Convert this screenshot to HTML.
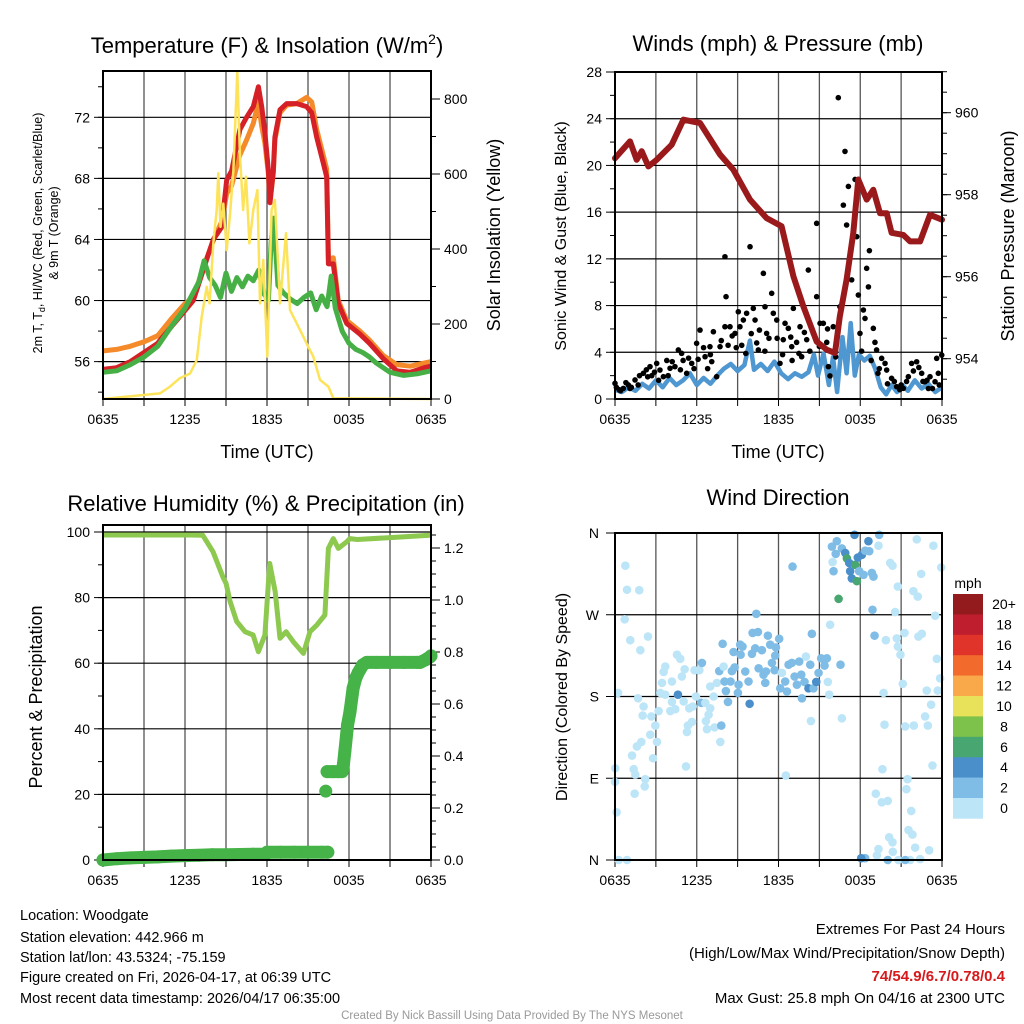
<!DOCTYPE html>
<html><head><meta charset="utf-8">
<style>
html,body{margin:0;padding:0;background:#fff;}
svg{display:block;font-family:"Liberation Sans",Arial,sans-serif;}
</style></head>
<body>
<svg id="chart" width="1024" height="1024" viewBox="0 0 1024 1024">
<rect x="0" y="0" width="1024" height="1024" fill="#fff"/>
<g id="texts" fill="#000">
<text x="267" y="53" font-size="22" text-anchor="middle">Temperature (F) &amp; Insolation (W/m<tspan dy="-9" font-size="14">2</tspan><tspan dy="9">)</tspan></text>
<text x="778" y="51" font-size="22" text-anchor="middle">Winds (mph) &amp; Pressure (mb)</text>
<text x="266" y="511" font-size="22" text-anchor="middle">Relative Humidity (%) &amp; Precipitation (in)</text>
<text x="778" y="505" font-size="22" text-anchor="middle">Wind Direction</text>
<text x="267" y="458" font-size="18" text-anchor="middle">Time (UTC)</text>
<text x="778" y="458" font-size="18" text-anchor="middle">Time (UTC)</text>
<text transform="translate(42,233) rotate(-90)" font-size="12.5" text-anchor="middle">2m T, T<tspan dy="3" font-size="9">d</tspan><tspan dy="-3">, HI/WC (Red, Green, Scarlet/Blue)</tspan></text>
<text transform="translate(58,233) rotate(-90)" font-size="12.5" text-anchor="middle">&amp; 9m T (Orange)</text>
<text transform="translate(500,235) rotate(-90)" font-size="18" text-anchor="middle">Solar Insolation (Yellow)</text>
<text transform="translate(566,236) rotate(-90)" font-size="16" text-anchor="middle">Sonic Wind &amp; Gust (Blue, Black)</text>
<text transform="translate(1014,236) rotate(-90)" font-size="18" text-anchor="middle">Station Pressure (Maroon)</text>
<text transform="translate(42,697) rotate(-90)" font-size="18" text-anchor="middle">Percent &amp; Precipitation</text>
<text transform="translate(567,697) rotate(-90)" font-size="16" text-anchor="middle">Direction (Colored By Speed)</text>
<g font-size="14.5">
<text x="20" y="920">Location: Woodgate</text>
<text x="20" y="942">Station elevation: 442.966 m</text>
<text x="20" y="962">Station lat/lon: 43.5324; -75.159</text>
<text x="20" y="982">Figure created on Fri, 2026-04-17, at 06:39 UTC</text>
<text x="20" y="1003">Most recent data timestamp: 2026/04/17 06:35:00</text>
</g>
<g font-size="15" text-anchor="end">
<text x="1005" y="934">Extremes For Past 24 Hours</text>
<text x="1005" y="958">(High/Low/Max Wind/Precipitation/Snow Depth)</text>
<text x="1005" y="981" fill="#d7191c" font-weight="bold">74/54.9/6.7/0.78/0.4</text>
<text x="1005" y="1003">Max Gust: 25.8 mph On 04/16 at 2300 UTC</text>
</g>
<text x="512" y="1019" font-size="11.5" fill="#999" text-anchor="middle">Created By Nick Bassill Using Data Provided By The NYS Mesonet</text>
<text x="968" y="588" font-size="14" text-anchor="middle">mph</text>
</g>
<g id="plots"></g>
</svg>
<script>
// ---------- DATA ----------
const xTickLabels = ['0635','1235','1835','0035','0635'];
const tempTicks = [56,60,64,68,72];
const insTicks = [0,200,400,600,800];
const windTicks = [0,4,8,12,16,20,24,28];
const presTicks = [954,956,958,960];
const rhTicks = [0,20,40,60,80,100];
const precipTicks = [0,0.2,0.4,0.6,0.8,1.0,1.2];
const dirTickLabels = ['N','E','S','W','N'];
const dirTickValues = [0,90,180,270,360];
const speedClassLabels = ['0','2','4','6','8','10','12','14','16','18','20+'];
const speedClassColors = ['#bde5f8','#7fbce6','#4a8fc9','#48a670','#7dc24b','#e8e25a','#f9a84a','#f26a2c','#e0342a','#be1e2d','#931a1d'];

const redT_h = [0,1,2,3,4,4.17,5.39,6.61,7.59,8.07,8.68,9.05,9.42,10.02,10.51,11.0,11.37,11.61,11.85,12.1,12.22,12.46,12.58,12.95,13.44,14.17,14.9,15.27,15.64,16.12,16.37,16.49,16.85,17.22,17.83,18.8,19.5,20.5,21.5,22.5,23.5,24];
const redT_v = [55.5,55.6,56.0,56.6,57.2,57.4,58.7,60.0,62.7,64.0,64.8,67.9,68.5,71.2,72.0,72.7,74.0,72.7,71.0,68.5,66.4,68.5,70.7,72.5,72.9,72.9,72.7,72.3,70.7,69.0,68.1,62.4,62.4,59.8,58.5,57.8,57.2,56.2,55.4,55.3,55.6,55.7];
const orangeT_h = [0,1,2,3,4,5,6,6.6,7.6,8.1,8.7,9.05,9.4,10.0,10.5,11.0,11.37,11.6,11.85,12.1,12.22,12.46,12.58,12.95,13.44,14.17,14.9,15.27,15.64,16.12,16.37,16.49,16.85,17.22,17.83,18.8,19.5,20.5,21.5,22.5,23.5,24];
const orangeT_v = [56.7,56.8,57.0,57.3,57.7,58.8,59.8,60.2,62.8,64.0,65.2,67.0,67.5,69.5,70.5,71.6,73.0,71.5,70.3,68.3,66.5,68.3,70.5,72.3,72.8,72.9,73.3,73.0,71.2,69.5,68.6,62.7,62.8,60.0,58.7,58.0,57.4,56.4,55.8,55.7,55.9,56.0];
const dewT_h = [0,1,2,3,4,5,6,7,7.4,7.8,8.2,8.6,9.0,9.4,9.8,10.2,10.6,11,11.4,11.8,12.1,12.3,12.5,12.8,13.2,13.7,14.2,14.7,15.2,15.6,16,16.4,16.7,17,17.5,18,18.5,19,19.5,20,20.5,21,22,23,24];
const dewT_v = [55.3,55.4,55.8,56.3,57.0,58.3,59.5,61.2,62.6,61.5,61.0,60.2,61.8,60.6,61.5,60.9,61.6,61.3,62.0,60.4,60.0,63.8,65.4,61.0,60.5,60.1,59.8,60.2,60.5,59.4,60.3,59.6,61.6,59.5,58.0,57.2,56.8,56.6,56.3,55.9,55.6,55.3,55.1,55.2,55.4];
const ins_h = [0,4.17,4.9,5.6,6.37,6.86,7.22,7.59,7.8,8.07,8.32,8.44,8.6,8.8,9.05,9.3,9.54,9.83,10.02,10.25,10.46,10.71,11.0,11.3,11.49,11.73,12.02,12.34,12.58,12.95,13.39,13.68,14.17,14.66,15.02,15.39,15.88,16.49,16.85,24];
const ins_v = [0,15,33,55,68,104,219,299,255,415,504,602,459,521,397,495,611,873,655,504,593,415,504,557,255,371,113,504,531,255,442,237,202,166,139,113,51,33,2,0];

const wind_h = [0,0.5,1,1.5,2,2.5,3,3.5,4,4.5,5,5.5,6,6.5,7,7.5,8,8.5,9,9.5,9.9,10.2,10.7,11.2,11.7,12.2,12.7,13.2,13.7,14.2,14.6,14.9,15.3,15.7,16.0,16.3,16.7,17.0,17.3,17.6,17.9,18.3,18.7,19.1,19.5,19.9,20.3,20.7,21.1,21.5,22,22.5,23,23.5,24];
const wind_v = [0.8,0.6,1.0,0.7,1.3,0.9,1.6,1.0,1.8,1.2,1.6,2.2,1.2,1.8,1.3,2.0,2.6,3.0,2.4,2.9,5.0,2.5,3.0,2.4,3.2,2.2,1.7,2.2,1.9,2.3,3.8,2.0,3.9,1.2,3.6,0.6,5.3,2.2,6.5,2.0,3.8,3.3,3.7,2.6,1.0,0.4,1.2,0.6,1.2,0.7,1.6,0.9,1.3,0.6,1.0];
const gust_h = [0,0.61,0.98,1.47,2.08,2.57,3.06,3.3,3.55,4.04,4.4,4.65,4.89,5.26,5.63,5.99,6.24,6.61,6.97,7.22,7.46,7.71,8.07,8.07,8.15,8.44,8.81,9.05,9.17,9.42,9.66,9.91,10.15,10.28,10.52,10.89,11.01,11.13,11.5,11.62,11.87,12.11,12.35,12.48,12.72,12.97,13.09,13.33,13.58,13.7,14.07,14.19,14.56,14.8,14.8,15.05,15.29,15.54,15.66,15.78,16.02,16.39,16.51,16.76,16.88,17.0,17.13,17.37,17.62,17.74,17.86,17.98,18.23,18.35,18.47,18.6,18.67,18.96,19.08,19.2,19.57,19.82,19.94,20.3,20.67,21.16,21.53,21.77,22.14,22.51,22.75,23.12,23.49,23.73,23.98,23.61,0.3,1.2,1.8,2.3,2.9,3.8,5.0,5.4,6.5,7.0,7.8,8.6,9.3,10.6,11.3,12.9,13.9,15.6,19.4,20.0,20.9,21.4,22.3,22.9,23.3,0.1,0.4,0.8,1.1,1.7,2.4,2.7,3.2,3.9,4.2,4.8,5.8,6.1,6.8,7.1,8.3,8.9,9.6,10.0,10.4,11.0,11.9,12.3,13.0,13.5,14.3,15.0,16.2,18.1,18.8,19.3,20.5,21.0,21.9,22.6,23.0,23.8];
const gust_v = [1.34,0.91,1.2,1.63,2.2,2.77,3.05,2.48,1.91,2.63,2.77,4.2,3.91,2.2,3.05,4.77,5.9,3.62,4.48,5.76,1.91,4.48,6.19,12.18,8.76,6.19,5.62,7.47,6.19,6.76,7.34,13.04,7.76,6.76,4.2,10.76,7.9,5.62,9.05,7.34,6.76,3.05,5.08,6.48,6.05,4.48,7.76,4.85,6.19,3.62,5.08,11.04,5.62,15.04,8.76,6.48,6.48,4.85,2.77,1.98,6.19,25.8,7.9,16.6,21.2,14.9,18.2,10.2,18.8,13.9,8.9,5.62,7.62,6.9,11.19,9.6,12.7,6.05,4.85,4.2,3.48,3.05,2.48,1.77,1.06,0.91,1.91,3.05,3.19,2.2,1.48,1.91,1.48,2.2,3.76,3.48,0.8,1.0,2.0,2.5,2.3,3.3,3.3,3.5,4.4,3.8,5.0,5.4,4.6,5.9,5.2,5.3,5.7,6.0,2.6,1.3,0.8,1.5,2.7,1.6,0.9,1.0,0.7,1.4,0.9,1.2,1.9,2.0,1.6,2.0,3.2,2.5,2.6,3.4,2.6,3.2,4.6,4.4,3.9,5.6,4.8,4.1,5.2,3.8,3.3,3.9,4.1,4.5,3.6,4.1,3.3,2.2,1.5,1.2,2.4,1.5,0.9,1.2];
const pres_h = [0,1.1,1.59,1.96,2.45,3.06,4.16,5.02,6.24,7.71,8.68,9.91,11.13,12.23,13.09,13.82,14.8,15.54,16.15,16.5,17.0,17.49,17.86,18.47,18.96,19.45,19.94,20.3,21.16,21.65,22.39,23.12,24];
const pres_v = [958.89,959.30,958.85,959.06,958.69,958.85,959.22,959.83,959.75,958.98,958.61,957.88,957.43,957.23,956.01,955.28,954.42,954.22,954.14,955.03,955.93,957.07,958.37,957.88,958.12,957.55,957.55,957.07,957.02,956.86,956.86,957.51,957.39];

const rh_h = [0,6.37,7.3,8.05,8.8,9.0,9.3,9.78,10.39,10.98,11.37,11.85,12.2,12.6,12.95,13.4,13.92,14.66,15.15,15.64,16.24,16.49,16.85,17.22,17.83,18.07,18.6,21,23.9,24];
const rh_v = [99.1,99.1,99,94,86,84.4,78.8,72.7,69.6,68.6,63.5,68.6,90.4,81.8,67.6,69.6,66.6,63,69.6,71.6,74.7,95,98,95,97,98,97.7,98.3,99,99];
const pr_h = [0,1,2,3,4,5,6,7,8,9,10,11,11.9,12.0,13,14,15,16,16.45,16.3,16.4,16.8,17.2,17.5,17.6,17.7,17.9,18.07,18.3,18.5,18.67,19.0,19.3,20,21,22,23,23.2,23.6,23.9,24];
const pr_v = [0.0,0.005,0.008,0.01,0.012,0.015,0.017,0.018,0.02,0.02,0.021,0.022,0.022,0.03,0.03,0.03,0.03,0.03,0.03,0.265,0.34,0.34,0.34,0.34,0.37,0.42,0.52,0.57,0.66,0.70,0.72,0.75,0.76,0.76,0.76,0.76,0.76,0.76,0.77,0.78,0.785];

const dir_h = [0.76,0.88,1.78,0.71,1.12,1.86,2.42,0.22,1.69,2.1,2.03,2.67,2.96,2.59,3.08,1.93,1.61,1.25,2.79,1.37,0.02,1.49,0,2.22,2.18,1.44,0.12,0.27,0.88,3.33,3.69,3.2,4.18,4.06,4.42,3.45,3.69,3.57,4.18,4.55,4.79,4.91,5.11,4.62,5.04,5.45,5.7,5.65,5.35,5.28,5.21,5.84,6.19,6.38,6.33,5.94,6.63,6.99,7.24,6.99,6.87,6.67,6.75,7.31,7.8,7.73,7.48,7.65,7.97,8.04,8.14,8.29,8.48,8.58,8.78,7.9,8.7,9.07,9.02,9.19,9.36,9.22,9.56,9.8,9.88,10.05,10.1,10.37,10.49,10.29,10.54,10.78,10.9,11.08,11.03,11.22,11.39,11.52,11.81,11.76,11.71,12.05,12.25,12.13,12.49,12.62,12.74,12.98,13.03,13.18,13.35,13.52,13.72,13.67,13.91,14.01,14.33,14.45,14.2,14.57,14.77,14.94,15.13,15.38,15.55,15.62,15.72,15.79,14.38,12.54,16.55,16.65,15.92,16.28,16.2,15.97,16.04,16.65,16.9,17.02,17.19,17.26,17.38,17.63,17.75,17.82,17.92,18.12,18.36,18.6,18.66,17.58,16.41,18.24,18.85,18.97,18.9,19.34,19.39,19.05,20.2,20.37,20.56,19.88,20.76,20.68,20.76,20.95,21.25,21.12,19.71,19.78,21.3,21.93,22.96,21.9,22.22,22.47,22.15,23.37,23.94,23.5,22.27,22.52,23.62,23.86,22.88,23.69,23.2,22.76,23.3,19.63,21.47,21.39,19.14,19.58,20.02,21.74,21.54,21.83,20.12,20.37,22.03,23.06,19.34,20.39,19.22,18.36,18.07,20.02,20.8,21.66,22.4,21.3];
const dir_deg = [324,297.5,297,265,242,231,246,184,178,169,159,158,148,138,130,130,125,115,112,100,101,94,86,89,81,73,52.5,0,0,184,182,164,174,164,166,195,213,207,196.5,226,221.5,202,210,182,174.5,167,169,152,148,141,103,209,209,217,173,180,173,191,180,167,160,153,144,146,148,130,195,208,213,196.5,186,174,196.5,208,212,238,229,193,184,237,235,226,207.5,196.5,172,227,250,271,251,233,211,231,204,207.5,195,247,237,217,234,225,209,243.5,206,189,196.5,185.5,215,217,323,202,193,218.5,178,204,196,224,215,249,189,189,196,206,222,214,222,196,182,259,153,93,215,156,345,351,337,328,318,343,338,332,327,318,310,325,307,333,318,336,340.5,351,340,358,287.5,314,316,312,275.5,346,358,247,327,324,273,242,301,244,235,226,250,194,184,149,147,148,148,296,290,315,353,346,322,269,246,249,221.5,200,186.5,186.5,171,158,104,100,89,78,73,63.5,65,54,33,28,25,19.5,13.6,10.7,12,9,5,2,2,0,0,0,1,0];
const dir_speed = [0,0,0,0,0,0,0,0,0,0,0,0,0,0,0,0,0,0,0,0,0,0,0,0,0,0,0,0,0,0,0,0,0,0,0,0,0,0,0,0,0,0,0,4,0,0,0,0,0,0,0,0,0,2,2,0,0,0,0,0,0,0,0,0,2,0,0,2,0,2,2,2,2,2,2,2,2,2,2,2,2,2,2,2,4,2,2,2,2,2,2,2,2,2,2,2,2,2,2,2,2,2,0,2,2,2,2,2,2,2,2,2,2,2,2,0,2,2,4,2,4,2,2,2,2,0,0,0,0,0,2,0,2,2,2,0,2,2,4,6,4,4,4,6,6,4,2,4,2,4,2,4,6,2,2,2,2,0,2,2,0,0,0,0,0,0,0,0,0,0,0,0,0,0,0,0,0,0,0,0,0,0,0,0,0,0,0,0,0,0,0,0,0,0,0,0,0,0,0,0,0,0,0,0,0,0,0,2,4,2,0,0,0,2,0];

// ---------- RENDER ----------
const NS = 'http://www.w3.org/2000/svg';
const plots = document.getElementById('plots');
function mk(tag, attrs, parent){
  const e = document.createElementNS(NS, tag);
  for (const k in attrs) e.setAttribute(k, attrs[k]);
  (parent || plots).appendChild(e);
  return e;
}
function polyPath(hs, vs, xf, yf){
  let d = '';
  for (let i=0;i<hs.length;i++) d += (i?'L':'M') + xf(hs[i]).toFixed(1) + ',' + yf(vs[i]).toFixed(1);
  return d;
}
function frame(p, name){
  const g = mk('g', {});
  
  
  return g;
}
function xGridTicks(g, p){
  for (let h=0; h<=24; h+=3){
    const x = p.x(h);
    if (h>0 && h<24) mk('line',{x1:x,y1:p.y0,x2:x,y2:p.y1,stroke:'#555','stroke-width':1.3},g);
    mk('line',{x1:x,y1:p.y1,x2:x,y2:p.y1+7,stroke:'#000','stroke-width':1},g);
  }
  for (let i=0;i<xTickLabels.length;i++){
    const t = mk('text',{x:p.x(i*6),y:p.y1+25,'font-size':14,'text-anchor':'middle'},g);
    t.textContent = xTickLabels[i];
    
    
  }
}
function yAxis(g, p, side, ticks, yf, fmt, minorStep, lo, hi, grid){
  const x = side==='l' ? p.x0 : p.x1;
  const dir = side==='l' ? -1 : 1;
  for (const v of ticks){
    const y = yf(v);
    if (grid) mk('line',{x1:p.x0,y1:y,x2:p.x1,y2:y,stroke:'#000','stroke-width':1.2},g);
    mk('line',{x1:x,y1:y,x2:x+dir*9,y2:y,stroke:'#000','stroke-width':1},g);
    const t = mk('text',{x:x+dir*13,y:y+5,'font-size':14,'text-anchor':side==='l'?'end':'start'},g);
    t.textContent = fmt(v);
    
    
  }
  if (minorStep){
    for (let v=lo; v<=hi+1e-9; v+=minorStep){
      const y = yf(v);
      if (y < p.y0-0.5 || y > p.y1+0.5) continue;
      mk('line',{x1:x,y1:y,x2:x+dir*5,y2:y,stroke:'#000','stroke-width':1},g);
    }
  }
}
function box(g,p){ mk('rect',{x:p.x0,y:p.y0,width:p.x1-p.x0,height:p.y1-p.y0,fill:'none',stroke:'#000','stroke-width':2},g); }

// Panel 1: temperature
const P1 = {x0:103,x1:431,y0:71,y1:399};
P1.x = h => P1.x0 + h*(P1.x1-P1.x0)/24;
const tY = v => 117.3 + (72-v)*15.27;
const iY = v => 399 - v*0.375;
{
  const g = frame(P1,'temperature-panel');
  xGridTicks(g,P1);
  yAxis(g,P1,'l',tempTicks,tY,v=>String(v),2,54,74,true);
  yAxis(g,P1,'r',insTicks,iY,v=>String(v),100,0,900,false);
  const o = mk('path',{d:polyPath(orangeT_h,orangeT_v,P1.x,tY),fill:'none',stroke:'#f58a2a','stroke-width':5,'stroke-linejoin':'round'},g);
   
  const r = mk('path',{d:polyPath(redT_h,redT_v,P1.x,tY),fill:'none',stroke:'#d42026','stroke-width':5,'stroke-linejoin':'round'},g);
   
  const gr = mk('path',{d:polyPath(dewT_h,dewT_v,P1.x,tY),fill:'none',stroke:'#46b046','stroke-width':5,'stroke-linejoin':'round'},g);
   
  const y = mk('path',{d:polyPath(ins_h,ins_v,P1.x,iY),fill:'none',stroke:'#fde35a','stroke-width':2.5,'stroke-linejoin':'round'},g);
   
  box(g,P1);
}

// Panel 2: winds & pressure
const P2 = {x0:615,x1:942,y0:72,y1:399};
P2.x = h => P2.x0 + h*(P2.x1-P2.x0)/24;
const wY = v => 399 - v*(327/28);
const pY = v => 112.7 + (960-v)*41;
{
  const g = frame(P2,'winds-panel');
  xGridTicks(g,P2);
  yAxis(g,P2,'l',windTicks,wY,v=>String(v),2,0,28,true);
  yAxis(g,P2,'r',presTicks,pY,v=>String(v),0.5,953,961,false);
  const b = mk('path',{d:polyPath(wind_h,wind_v,P2.x,wY),fill:'none',stroke:'#4f97d1','stroke-width':4.5,'stroke-linejoin':'round'},g);
   
  for (let i=0;i<gust_h.length;i++){
    const c = mk('circle',{cx:P2.x(gust_h[i]),cy:wY(gust_v[i]),r:2.8,fill:'#000'},g);
    
    
  }
  const pr = mk('path',{d:polyPath(pres_h,pres_v,P2.x,pY),fill:'none',stroke:'#9a1a1c','stroke-width':6,'stroke-linejoin':'round','stroke-linecap':'round'},g);
   
  box(g,P2);
}

// Panel 3: RH & precip
const P3 = {x0:103,x1:431,y0:525,y1:860};
P3.x = h => P3.x0 + h*(P3.x1-P3.x0)/24;
const rY = v => 860 - v*3.28;
const prY = v => 860 - v*260;
{
  const g = frame(P3,'humidity-panel');
  xGridTicks(g,P3);
  yAxis(g,P3,'l',rhTicks,rY,v=>String(v),10,0,100,true);
  yAxis(g,P3,'r',precipTicks,prY,v=>v.toFixed(1),0.05,0,1.25,false);
  const rh = mk('path',{d:polyPath(rh_h,rh_v,P3.x,rY),fill:'none',stroke:'#8dc84f','stroke-width':5,'stroke-linejoin':'round'},g);
   
  const pp = mk('path',{d:polyPath(pr_h.slice(0,19),pr_v.slice(0,19),P3.x,prY),fill:'none',stroke:'#45b347','stroke-width':13,'stroke-linecap':'round','stroke-linejoin':'round'},g);
   
  const pp2 = mk('path',{d:polyPath(pr_h.slice(20),pr_v.slice(20),P3.x,prY),fill:'none',stroke:'#45b347','stroke-width':13,'stroke-linecap':'round','stroke-linejoin':'round'},g);
   
  for (let i=0;i<pr_h.length;i++){
    const c = mk('circle',{cx:P3.x(pr_h[i]),cy:prY(pr_v[i]),r:6.5,fill:'#45b347'},g);
    
    
  }
  box(g,P3);
}

// Panel 4: wind direction
const P4 = {x0:615,x1:942,y0:533,y1:860};
P4.x = h => P4.x0 + h*(P4.x1-P4.x0)/24;
const dY = d => 860 - d*(327/360);
{
  const g = frame(P4,'wind-direction-panel');
  xGridTicks(g,P4);
  for (let i=0;i<dirTickValues.length;i++){
    const y = dY(dirTickValues[i]);
    mk('line',{x1:P4.x0,y1:y,x2:P4.x1,y2:y,stroke:'#000','stroke-width':1.2},g);
    mk('line',{x1:P4.x0,y1:y,x2:P4.x0-9,y2:y,stroke:'#000','stroke-width':1},g);
    const t = mk('text',{x:P4.x0-16,y:y+5,'font-size':14,'text-anchor':'end'},g);
    t.textContent = dirTickLabels[i];
    
    
  }
  for (let i=0;i<dir_h.length;i++){
    const c = mk('circle',{cx:P4.x(dir_h[i]),cy:dY(dir_deg[i]),r:4.3,fill:speedClassColors[dir_speed[i]/2]},g);
    
    
  }
  box(g,P4);
  const cb = mk('g',{},g);
  
  
  const n = speedClassColors.length, top = 594, bh = 20.4;
  for (let i=0;i<n;i++){
    const k = n-1-i;
    const r = mk('rect',{x:953,y:top+i*bh,width:30,height:bh+0.3,fill:speedClassColors[k]},cb);
    
    
    const t = mk('text',{x:1004,y:top+i*bh+15,'font-size':14,'text-anchor':'middle'},cb);
    t.textContent = speedClassLabels[k];
    
    
  }
}
</script>
</body></html>
